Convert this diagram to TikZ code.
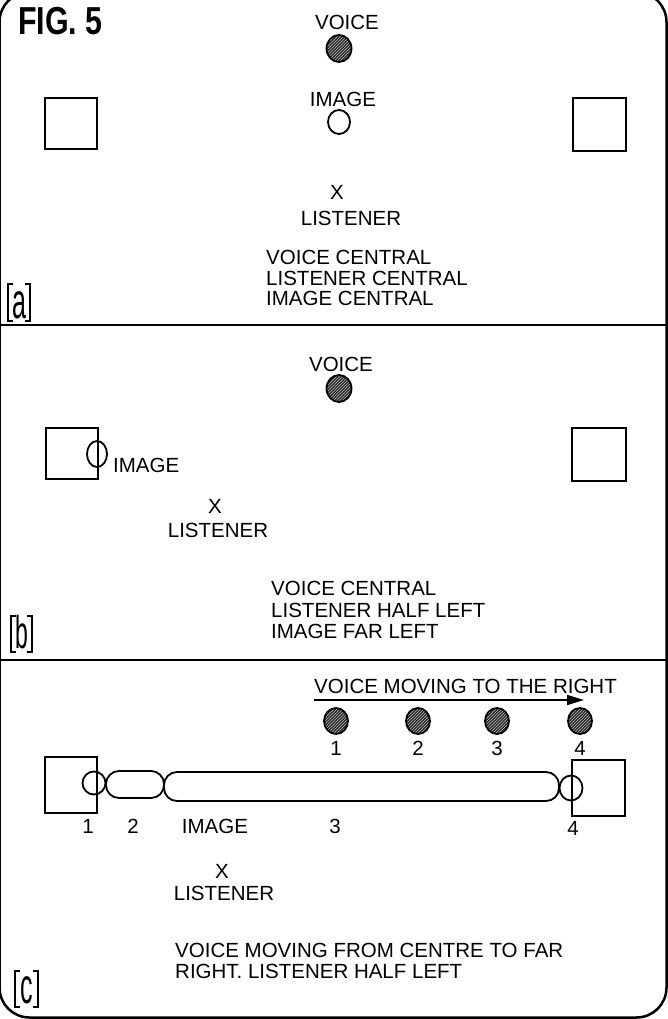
\documentclass[tikz,border=0pt]{standalone}
\usepackage{fontspec}
\setmainfont{Liberation Sans}
\usetikzlibrary{patterns,arrows.meta,shapes.geometric}
\begin{document}
\begin{tikzpicture}[x=1pt,y=-1pt,
  lbl/.style={inner sep=0pt,font=\fontsize{20.5}{24}\selectfont},
  spk/.style={draw,line width=1.8pt,inner sep=0pt,minimum width=52pt,minimum height=51pt,anchor=north west},
  voice/.style={ellipse,draw,line width=1.8pt,inner sep=0pt,minimum width=25pt,minimum height=27pt,
     preaction={fill=black!85},pattern=north east lines,pattern color=white!75!black},
  img/.style={ellipse,draw,line width=1.8pt,inner sep=0pt,minimum width=23pt,minimum height=24pt},
  caps/.style={draw,line width=1.8pt,inner sep=0pt,rounded corners=13pt},
  brk/.style={line width=1.6pt},
  plet/.style={inner sep=0pt,anchor=base},
  divider/.style={line width=2.4pt}
]
\useasboundingbox (0,0) rectangle (668,1019);
% frame
\begin{scope}
\clip (0,0) rectangle (668,1019);
\draw[line width=2.5pt,rounded corners=30pt] (-0.5,-8) rectangle (666.5,1017.5);
\end{scope}
\draw[divider] (0,325) -- (668,325);
\draw[divider] (0,660) -- (668,660);

% ---------- panel a ----------
\node[inner sep=0pt,anchor=base west] (fig) at (18,35) {\scalebox{0.78}[1]{\fontsize{39}{40}\selectfont\bfseries FIG. 5}};
\node[lbl,anchor=base] (a-vt) at (347,30) {VOICE};
\node[voice] (a-v) at (339,48.5) {};
\node[lbl,anchor=base] (a-it) at (343,107) {IMAGE};
\node[img,minimum width=22pt,minimum height=24pt] (a-i) at (339,122) {};
\node[spk] (a-ls) at (44,97) {};
\node[spk,minimum width=53pt,minimum height=53pt] (a-rs) at (572,97) {};
\node[lbl,anchor=base] (a-x) at (337,200) {X};
\node[lbl,anchor=base] (a-lt) at (351,225) {LISTENER};
\node[lbl,anchor=base west] (a-d1) at (266,264.5) {VOICE CENTRAL};
\node[lbl,anchor=base west] (a-d2) at (266,285) {LISTENER CENTRAL};
\node[lbl,anchor=base west] (a-d3) at (266,305) {IMAGE CENTRAL};
\draw[brk] (13,284) -- (8,284) -- (8,321) -- (13,321);
\draw[brk] (25,284) -- (30,284) -- (30,321) -- (25,321);
\node[plet] (a-lab) at (19,318) {\scalebox{0.5}[1]{\fontsize{50}{50}\selectfont a}};

% ---------- panel b ----------
\node[lbl,anchor=base] (b-vt) at (341,371) {VOICE};
\node[voice] (b-v) at (339,388.5) {};
\node[spk] (b-ls) at (45,427) {};
\node[spk,minimum width=54pt,minimum height=53pt] (b-rs) at (571,427) {};
\node[img,minimum width=20pt,minimum height=26pt] (b-i) at (97,454) {};
\node[lbl,anchor=base west] (b-it) at (113,472) {IMAGE};
\node[lbl,anchor=base] (b-x) at (215,513) {X};
\node[lbl,anchor=base] (b-lt) at (218,537) {LISTENER};
\node[lbl,anchor=base west] (b-d1) at (271,595) {VOICE CENTRAL};
\node[lbl,anchor=base west] (b-d2) at (271,617) {LISTENER HALF LEFT};
\node[lbl,anchor=base west] (b-d3) at (271,638) {IMAGE FAR LEFT};
\draw[brk] (16,616) -- (11,616) -- (11,652) -- (16,652);
\draw[brk] (27,616) -- (32,616) -- (32,652) -- (27,652);
\node[plet] (b-lab) at (21.5,648) {\scalebox{0.5}[1]{\fontsize{46}{46}\selectfont b}};

% ---------- panel c ----------
\node[lbl,anchor=base west] (c-mt) at (314,693) {VOICE MOVING TO THE RIGHT};
\coordinate (c-as) at (314,700);
\coordinate (c-ae) at (584,700);
\draw[line width=1.6pt,-{Triangle[length=17pt,width=10pt]}] (c-as) -- (c-ae);
\node[voice,minimum width=24pt,minimum height=26pt] (c-v1) at (336,721) {};
\node[voice,minimum width=24pt,minimum height=26pt] (c-v2) at (418,721) {};
\node[voice,minimum width=24pt,minimum height=26pt] (c-v3) at (497,721) {};
\node[voice,minimum width=24pt,minimum height=26pt] (c-v4) at (580,721) {};
\node[lbl,anchor=base] (c-n1) at (336,755) {1};
\node[lbl,anchor=base] (c-n2) at (418,755) {2};
\node[lbl,anchor=base] (c-n3) at (497,755) {3};
\node[lbl,anchor=base] (c-n4) at (580,755) {4};
\node[spk,minimum width=52pt,minimum height=56pt] (c-ls) at (44,756) {};
\node[spk,minimum width=53pt,minimum height=56pt] (c-rs) at (571,759) {};
\node[caps,minimum width=58pt,minimum height=27pt] (c-cap2) at (135,784.5) {};
\node[caps,minimum width=395pt,minimum height=29pt] (c-cap3) at (361.5,786.5) {};
\node[img,minimum width=23pt,minimum height=23pt] (c-i1) at (94,783) {};
\node[img,minimum width=23pt,minimum height=25pt] (c-i4) at (571,788) {};
\node[lbl,anchor=base] (c-l1) at (88,833) {1};
\node[lbl,anchor=base] (c-l2) at (133,833) {2};
\node[lbl,anchor=base] (c-it) at (215,833) {IMAGE};
\node[lbl,anchor=base] (c-l3) at (335,833) {3};
\node[lbl,anchor=base] (c-l4) at (573,835) {4};
\node[lbl,anchor=base] (c-x) at (222,878) {X};
\node[lbl,anchor=base] (c-lt) at (224,900) {LISTENER};
\node[lbl,anchor=base west] (c-d1) at (175,957) {VOICE MOVING FROM CENTRE TO FAR};
\node[lbl,anchor=base west] (c-d2) at (175,978) {RIGHT. LISTENER HALF LEFT};
\draw[brk] (20,971) -- (15,971) -- (15,1007) -- (20,1007);
\draw[brk] (33,971) -- (38,971) -- (38,1007) -- (33,1007);
\node[plet] (c-lab) at (26.5,1003) {\scalebox{0.5}[1]{\fontsize{50}{50}\selectfont c}};
\end{tikzpicture}
\end{document}
